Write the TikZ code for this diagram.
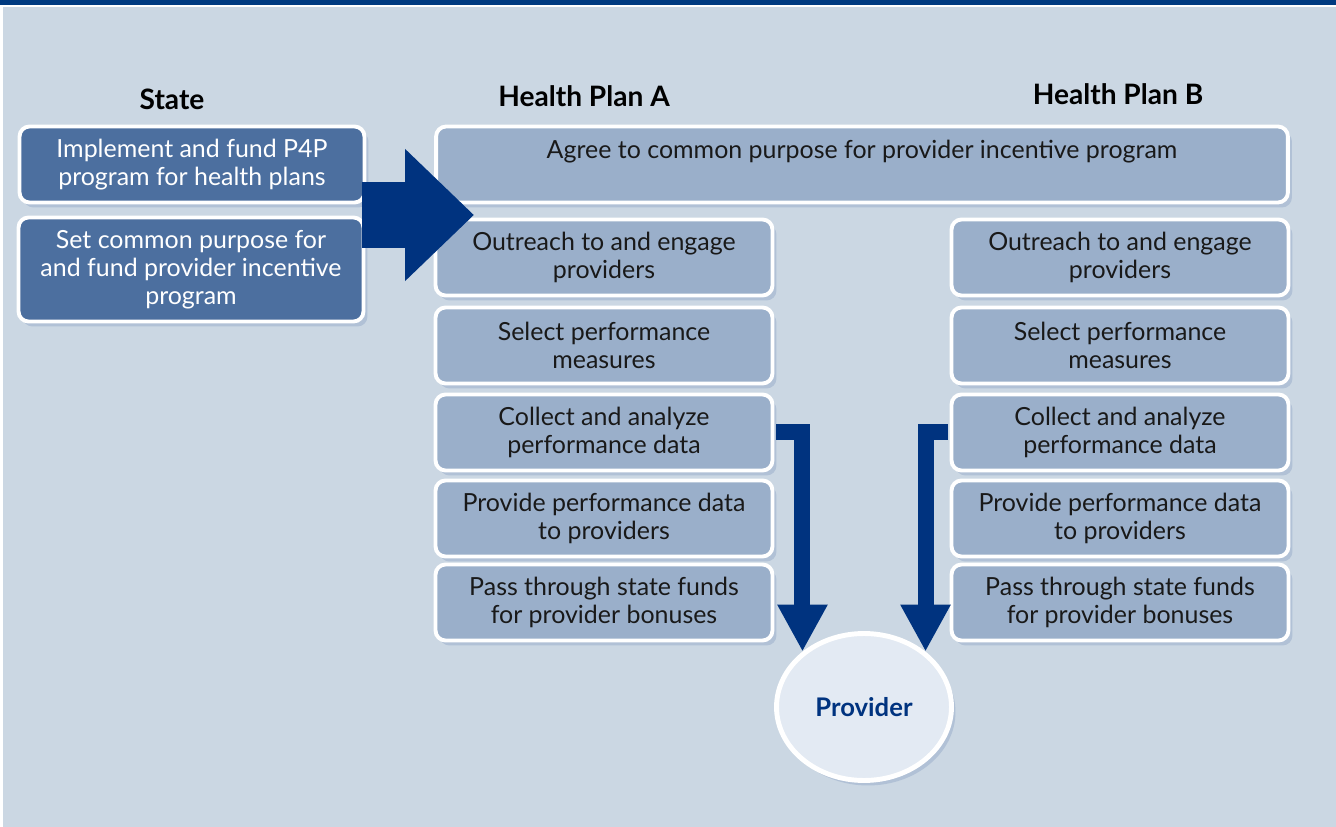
\documentclass[tikz,border=0pt]{standalone}
\usepackage{fontspec}
\setmainfont{Lato}
\usepackage{tikz}
\usetikzlibrary{shapes,shadows,arrows.meta}
\definecolor{bandblue}{HTML}{003A80}
\definecolor{bgblue}{HTML}{CBD7E3}
\definecolor{statefill}{HTML}{4C6F9F}
\definecolor{planfill}{HTML}{9AAFCA}
\definecolor{shadowblue}{HTML}{B1C1D6}
\definecolor{arrowblue}{HTML}{00337F}
\definecolor{provfill}{HTML}{E3EAF3}
\tikzset{
  box/.style={draw=white, line width=2.2pt, rounded corners=0.2cm, align=center, inner sep=0pt,
    font=\fontsize{14.2}{16}\selectfont, yshift=-0.05cm,
    drop shadow={shadow xshift=0.08cm, shadow yshift=-0.1cm, fill=shadowblue, opacity=1}},
  statebox/.style={box, fill=statefill, text=white, minimum width=6.9cm},
  planbox/.style={box, fill=planfill, text=black!90, minimum width=6.74cm, minimum height=1.52cm},
  hdr/.style={font=\fontsize{16}{19}\selectfont\bfseries},
  bigarrow/.style={arrowblue, line width=1.32cm, -{Triangle[length=1.38cm, width=2.56cm]}},
  bentarrow/.style={arrowblue, line width=0.32cm, -{Triangle[length=0.94cm, width=0.94cm]}}
}
\begin{document}
\begin{tikzpicture}[x=0.02cm, y=-0.02cm]
\useasboundingbox (0,0) rectangle (1336,827);
\fill[white] (0,0) rectangle (1336,827);
\fill[bandblue] (0,0) rectangle (1336,5);
\fill[bgblue] (3,7) rectangle (1336,827);

\node[hdr] (hstate) at (172,99) {State};
\node[hdr] (hplanA) at (584,96) {Health Plan A};
\node[hdr] (hplanB) at (1118,94) {Health Plan B};

\node[statebox, minimum height=1.52cm] (st1) at (192,162) {Implement and fund P4P\\program for health plans};
\node[statebox, minimum height=2.08cm] (st2) at (191,267) {Set common purpose for\\and fund provider incentive\\program};

\node[box, fill=planfill, text=black!90, minimum width=17.04cm, minimum height=1.52cm, text depth=0.6cm] (agree) at (862,162) {Agree to common purpose for provider incentive program};

\node[planbox] (outA) at (604,255) {Outreach to and engage\\providers};
\node[planbox] (selA) at (604,343) {Select performance\\measures};
\node[planbox] (colA) at (604,430) {Collect and analyze\\performance data};
\node[planbox] (proA) at (604,516) {Provide performance data\\to providers};
\node[planbox] (pasA) at (604,600) {Pass through state funds\\for provider bonuses};

\node[planbox] (outB) at (1120,255) {Outreach to and engage\\providers};
\node[planbox] (selB) at (1120,343) {Select performance\\measures};
\node[planbox] (colB) at (1120,430) {Collect and analyze\\performance data};
\node[planbox] (proB) at (1120,516) {Provide performance data\\to providers};
\node[planbox] (pasB) at (1120,600) {Pass through state funds\\for provider bonuses};

\node[ellipse, draw=white, line width=2.8pt, fill=provfill, minimum width=3.5cm, minimum height=2.94cm,
  drop shadow={shadow xshift=0.08cm, shadow yshift=-0.1cm, fill=shadowblue, opacity=1},
  text=arrowblue, font=\fontsize{14.6}{17}\selectfont\bfseries] (prov) at (864,707) {Provider};

\coordinate (arrS) at (362,215);
\coordinate (arrE) at (474,215);
\draw[bigarrow] (arrS) -- (arrE);
\draw[bentarrow] ([xshift=1pt]colA.east) -| (prov.138);
\draw[bentarrow] ([xshift=-1pt]colB.west) -| (prov.42);
\end{tikzpicture}
\end{document}
